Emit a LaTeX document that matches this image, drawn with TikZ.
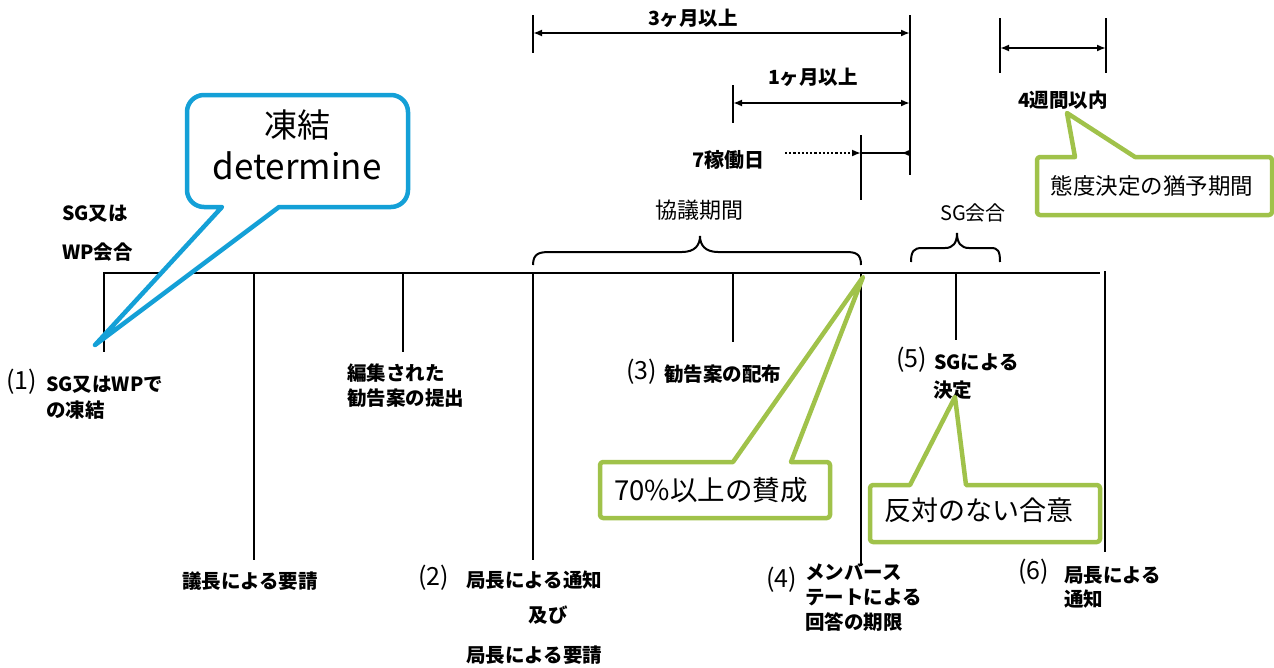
\documentclass[tikz,border=0pt]{standalone}
\usepackage{fontspec}
\setmainfont{Noto Sans CJK JP}
\usetikzlibrary{arrows.meta}
\definecolor{cblue}{RGB}{20,160,215}
\definecolor{cgreen}{RGB}{160,194,74}
\tikzset{
  ln/.style={line width=2.2pt,black},
  dim/.style={line width=2.2pt,{Latex[length=9pt,width=7pt]}-{Latex[length=9pt,width=7pt]}},
  lab/.style={font=\fontsize{19.5}{22}\selectfont\bfseries,inner sep=0pt,anchor=west},
  num/.style={font=\fontsize{25}{27}\selectfont,inner sep=0pt,anchor=west},
  callb/.style={line width=4.5pt,draw=cblue,fill=white,line join=round},
  callg/.style={line width=4.5pt,draw=cgreen,fill=white,line join=round},
}
\begin{document}
\begin{tikzpicture}[x=1pt,y=-1pt]
\useasboundingbox (0,0) rectangle (1274,667);
% main timeline
\coordinate (L) at (103,273); \coordinate (R) at (1100,273);
\draw[ln] (L) -- (R);
\coordinate (t1) at (104,273); \coordinate (b1) at (104,352);
\coordinate (t2) at (254,273); \coordinate (b2) at (254,560);
\coordinate (t3) at (403,273); \coordinate (b3) at (403,352);
\coordinate (t4) at (533,273); \coordinate (b4) at (533,560);
\coordinate (t5) at (733,273); \coordinate (b5) at (733,342);
\coordinate (t6) at (861,273); \coordinate (b6) at (861,566);
\coordinate (t7) at (956,273); \coordinate (b7) at (956,340);
\coordinate (t8) at (1105,271); \coordinate (b8) at (1105,552);
\foreach \i in {1,...,8} \draw[ln] (t\i) -- (b\i);
% top dimension ticks
\coordinate (a1) at (533,15); \coordinate (a2) at (533,53);
\coordinate (c1) at (910,15); \coordinate (c2) at (910,175);
\coordinate (d1) at (733,85); \coordinate (d2) at (733,123);
\coordinate (e1) at (861,135); \coordinate (e2) at (861,200);
\coordinate (f1) at (1000,18); \coordinate (f2) at (1000,73);
\coordinate (g1) at (1106,18); \coordinate (g2) at (1106,73);
\draw[ln] (a1)--(a2); \draw[ln] (c1)--(c2); \draw[ln] (d1)--(d2);
\draw[ln] (e1)--(e2); \draw[ln] (f1)--(f2); \draw[ln] (g1)--(g2);
\coordinate (m3l) at (533,33); \coordinate (m3r) at (910,33);
\coordinate (m1l) at (733,103); \coordinate (m1r) at (910,103);
\coordinate (w4l) at (1000,48); \coordinate (w4r) at (1106,48);
\draw[dim] (m3l) -- (m3r);
\draw[dim] (m1l) -- (m1r);
\draw[dim] (w4l) -- (w4r);
\node[lab,anchor=center] (l3m) at (693,18) {3ヶ月以上};
\node[lab,anchor=center] (l1m) at (813,77) {1ヶ月以上};
\node[lab,anchor=center] (l4w) at (1063,100) {4週間以内};
\node[lab,font=\fontsize{20}{22}\selectfont\bfseries] (l7d) at (692,160) {7稼働日};
\coordinate (dots) at (785,153); \coordinate (s7l) at (861,153); \coordinate (s7r) at (910,153);
\draw[line width=2.2pt,dotted,-{Latex[length=9pt,width=7pt]}] (dots) -- (s7l);
\draw[line width=2.2pt,-{Latex[length=9pt,width=7pt,reversed]}] (s7l) -- (s7r);
% braces
\draw[line width=2pt] (533,265) .. controls (533,253) and (540,252) .. (550,252) -- (682,252)
  .. controls (695,252) and (700,245) .. (700,236) .. controls (700,245) and (705,252) .. (718,252)
  -- (845,252) .. controls (855,252) and (861,253) .. (861,265);
\node[font=\fontsize{22}{24}\selectfont,inner sep=0pt] (kyogi) at (699,210) {協議期間};
\draw[line width=2pt] (911,262) .. controls (911,251) and (914,248) .. (922,248) -- (945,248)
  .. controls (953,248) and (957,243) .. (957,233) .. controls (957,243) and (961,248) .. (969,248)
  -- (991,248) .. controls (998,248) and (1000,251) .. (1000,262);
\node[font=\fontsize{20}{22}\selectfont,inner sep=0pt] (sgk) at (973,213) {SG会合};
% left labels
\node[lab] (sgwp1) at (62,214) {SG又は};
\node[lab] (sgwp2) at (62,252) {WP会合};
\node[num] (n1) at (6,382) {(1)};
\node[lab] (p1a) at (46,385) {SG又はWPで};
\node[lab] (p1b) at (46,410) {の凍結};
\node[lab] (ed1) at (347,373) {編集された};
\node[lab] (ed2) at (347,398) {勧告案の提出};
\node[lab,anchor=center] (gi) at (250,581) {議長による要請};
\node[num] (n2) at (418,578) {(2)};
\node[lab] (p2a) at (466,580) {局長による通知};
\node[lab,anchor=center] (p2b) at (548,615) {及び};
\node[lab] (p2c) at (466,655) {局長による要請};
\node[num] (n3) at (626,372) {(3)};
\node[lab] (p3) at (664,374) {勧告案の配布};
\node[num] (n4) at (766,580) {(4)};
\node[lab] (p4a) at (805,572) {メンバース};
\node[lab] (p4b) at (805,597) {テートによる};
\node[lab] (p4c) at (805,622) {回答の期限};
\node[num] (n5) at (896,360) {(5)};
\node[lab] (p5a) at (934,362) {SGによる};
\node[lab] (p5b) at (933,390) {決定};
\node[num] (n6) at (1018,572) {(6)};
\node[lab] (p6a) at (1064,575) {局長による};
\node[lab] (p6b) at (1064,599) {通知};
% blue callout
\draw[callb] (279,207) -- (95,345) -- (222,207) [rounded corners=17] -- (187,207) -- (187,95) -- (408,95) -- (408,207) [sharp corners] -- cycle;
\node[font=\fontsize{33}{35}\selectfont,inner sep=0pt] (tk1) at (297,125) {凍結};
\node[font=\fontsize{35}{37}\selectfont,inner sep=0pt] (tk2) at (297,166) {determine};
% green callout: 態度決定
\draw[callg] (1075,157) -- (1067,113) -- (1135,157) [rounded corners=3] -- (1272,157) -- (1272,215) -- (1037,215) -- (1037,157) [sharp corners] -- cycle;
\node[font=\fontsize{22.5}{24}\selectfont,inner sep=0pt] (tg1) at (1152,186) {態度決定の猶予期間};
% green callout: 70%
\draw[callg] (791,462) -- (863,277) -- (733,462) [rounded corners=3] -- (600,462) -- (600,518) -- (830,518) -- (830,462) [sharp corners] -- cycle;
\node[font=\fontsize{27.5}{29}\selectfont,inner sep=0pt] (tg2) at (711,490) {70\%以上の賛成};
% green callout: 反対のない合意
\draw[callg] (966,485) -- (955,397) -- (910,485) [rounded corners=3] -- (870,485) -- (870,542) -- (1100,542) -- (1100,485) [sharp corners] -- cycle;
\node[font=\fontsize{27}{29}\selectfont,inner sep=0pt] (tg3) at (979,510) {反対のない合意};
\end{tikzpicture}
\end{document}
